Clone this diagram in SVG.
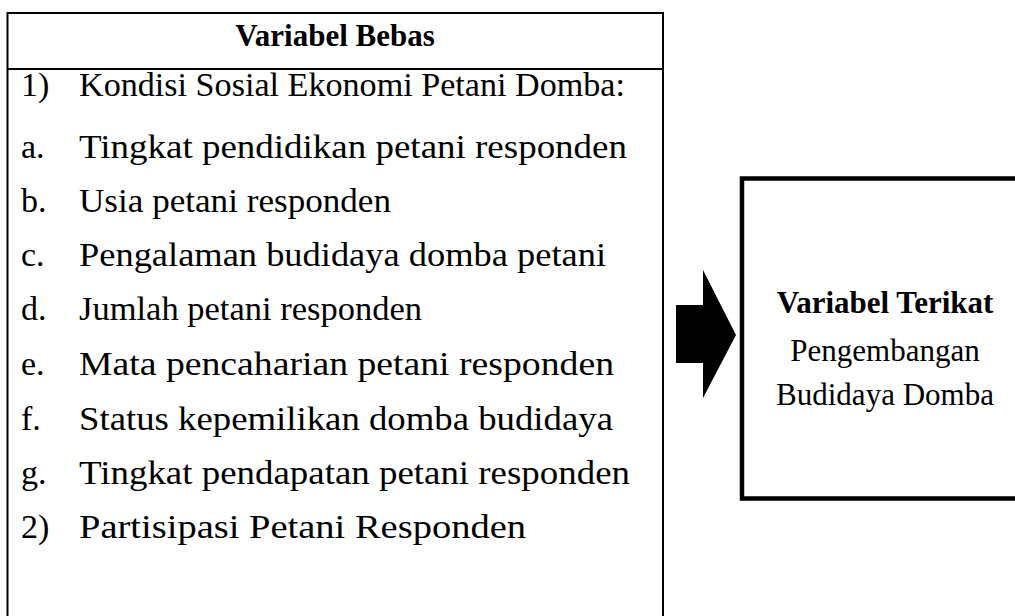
<svg xmlns="http://www.w3.org/2000/svg" width="1015" height="616" viewBox="0 0 1015 616">
<style>
.t{font-family:"Liberation Serif","Times New Roman",serif;font-size:34px;fill:#000}
.b{font-weight:bold;text-anchor:middle;font-size:31px}
.c{text-anchor:middle;font-size:31px}
.box{fill:#fff;stroke:#000}
</style>
<rect width="1015" height="616" fill="#fff"/>
<g id="variabel-bebas">
<rect class="box" x="7.5" y="13" width="655.5" height="640" stroke-width="2"/>
<line x1="7.5" y1="69" x2="663" y2="69" stroke="#000" stroke-width="2"/>
<text class="t b" x="335" y="46">Variabel Bebas</text>
<text class="t" x="21" y="96">1)</text><text class="t" x="79" y="96" textLength="546" lengthAdjust="spacingAndGlyphs">Kondisi Sosial Ekonomi Petani Domba:</text>
<text class="t" x="21" y="158">a.</text><text class="t" x="79" y="158" textLength="548" lengthAdjust="spacingAndGlyphs">Tingkat pendidikan petani responden</text>
<text class="t" x="21" y="212">b.</text><text class="t" x="79" y="212" textLength="312" lengthAdjust="spacingAndGlyphs">Usia petani responden</text>
<text class="t" x="21" y="266">c.</text><text class="t" x="79" y="266" textLength="527" lengthAdjust="spacingAndGlyphs">Pengalaman budidaya domba petani</text>
<text class="t" x="21" y="320">d.</text><text class="t" x="79" y="320" textLength="343" lengthAdjust="spacingAndGlyphs">Jumlah petani responden</text>
<text class="t" x="21" y="375">e.</text><text class="t" x="79" y="375" textLength="535" lengthAdjust="spacingAndGlyphs">Mata pencaharian petani responden</text>
<text class="t" x="21" y="430">f.</text><text class="t" x="79" y="430" textLength="534" lengthAdjust="spacingAndGlyphs">Status kepemilikan domba budidaya</text>
<text class="t" x="21" y="484">g.</text><text class="t" x="79" y="484" textLength="551" lengthAdjust="spacingAndGlyphs">Tingkat pendapatan petani responden</text>
<text class="t" x="21" y="538">2)</text><text class="t" x="79" y="538" textLength="447" lengthAdjust="spacingAndGlyphs">Partisipasi Petani Responden</text>
</g>
<g id="variabel-terikat">
<rect class="box" x="742" y="178.5" width="300" height="320" stroke-width="4.5"/>
<text class="t b" x="885" y="313">Variabel Terikat</text>
<text class="t c" x="885" y="361">Pengembangan</text>
<text class="t c" x="885" y="405">Budidaya Domba</text>
</g>
<g id="connectors">
<polygon points="676,305 703,305 703,270 736,335 703,398 703,363 676,363" fill="#000"/>
</g>
</svg>
